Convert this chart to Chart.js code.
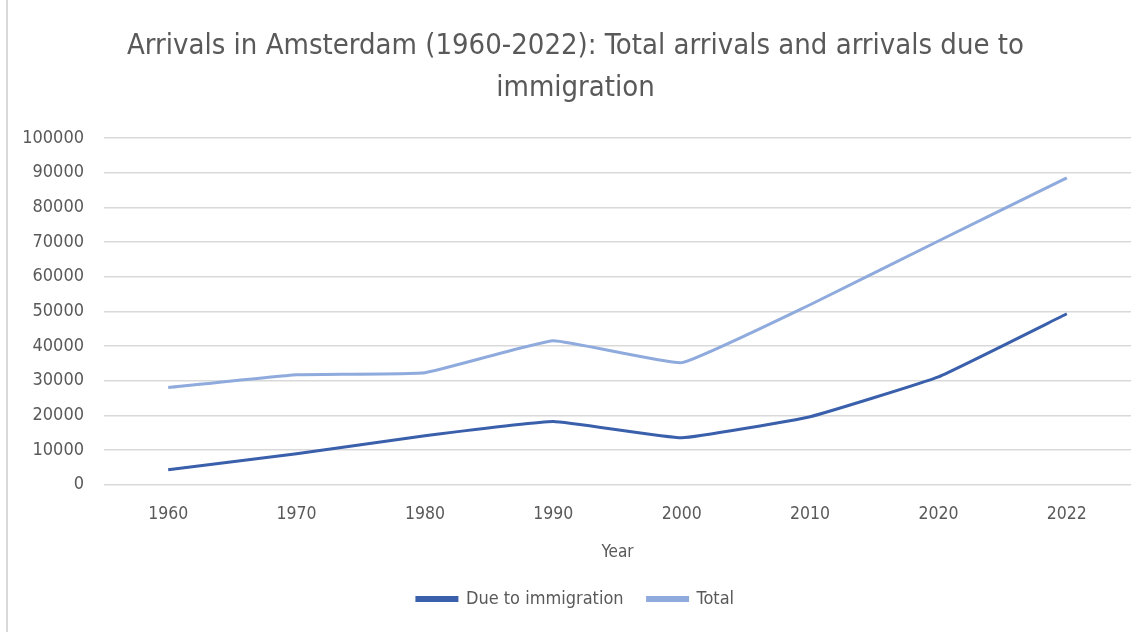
<!DOCTYPE html>
<html>
<head>
<meta charset="utf-8">
<script src="https://cdn.jsdelivr.net/npm/chart.js@4"></script>
<style>
  html, body { margin: 0; padding: 0; background: #fff; }
  #wrap { position: relative; height: 632px; box-sizing: border-box; border-left: 2px solid #d9d9d9; margin-left: 6px; width: 1135px; }
</style>
</head>
<body>
<div id="wrap"><canvas id="chart"></canvas></div>
<script>
// Data
const years = ['1960', '1970', '1980', '1990', '2000', '2010', '2020', '2022'];
const dueToImmigration = [4300, 8900, 14100, 18200, 13500, 19600, 31100, 49300];
const totalArrivals = [28000, 31700, 32300, 41500, 35200, 51900, 70300, 88500];
const titleLines = ['Arrivals in Amsterdam (1960-2022): Total arrivals and arrivals due to', 'immigration'];

const FONT = "'Liberation Sans Narrow', 'DejaVu Sans Condensed', sans-serif";
const TEXT = '#595959';

const ctx = document.getElementById('chart').getContext('2d');
const chart = new Chart(ctx, {
  type: 'line',
  data: {
    labels: years,
    datasets: [{
      label: 'Due to immigration',
      data: dueToImmigration,
      borderColor: '#3a5fab',
      backgroundColor: '#3a5fab',
      borderWidth: 3,
      pointRadius: 0,
      tension: 0.1
    }, {
      label: 'Total',
      data: totalArrivals,
      borderColor: '#8faadc',
      backgroundColor: '#8faadc',
      borderWidth: 3,
      pointRadius: 0,
      tension: 0.1
    }]
  },
  options: {
    responsive: true,
    maintainAspectRatio: false,
    animation: false,
    layout: { padding: { left: 12, right: 10, top: 25, bottom: 14 } },
    plugins: {
      title: {
        display: true,
        text: titleLines,
        color: TEXT,
        font: { family: FONT, size: 29, weight: 'normal', lineHeight: 1.45 },
        padding: { top: 0, bottom: 29 }
      },
      legend: {
        position: 'bottom',
        labels: {
          color: TEXT,
          font: { family: FONT, size: 18 },
          boxWidth: 40,
          boxHeight: 3,
          padding: 24
        }
      },
      tooltip: { enabled: false }
    },
    scales: {
      x: {
        offset: true,
        grid: { display: false },
        border: { display: false },
        ticks: { color: TEXT, font: { family: FONT, size: 17.5 }, padding: 11 },
        title: { display: true, text: 'Year', color: TEXT, font: { family: FONT, size: 17 }, padding: { top: 7, bottom: 3 } }
      },
      y: {
        min: 0,
        max: 100000,
        grid: { color: '#d9d9d9', lineWidth: 1.5, drawTicks: false },
        border: { display: false },
        afterFit: (scale) => { scale.width = 84; },
        ticks: {
          stepSize: 10000,
          color: TEXT,
          font: { family: FONT, size: 18 },
          padding: 20,
          callback: (v) => String(v)
        }
      }
    }
  }
});
</script>
</body>
</html>
